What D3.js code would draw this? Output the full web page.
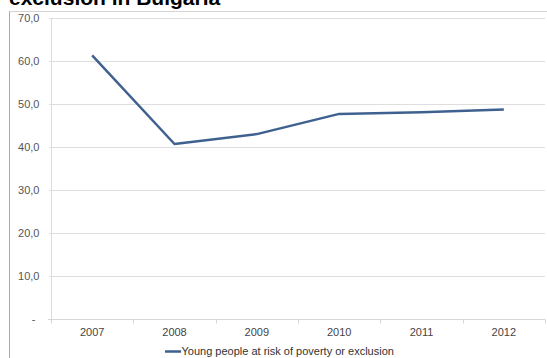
<!DOCTYPE html>
<html><head><meta charset="utf-8">
<script src="https://cdn.jsdelivr.net/npm/d3@7"></script>
<style>
html,body{margin:0;padding:0;background:#fff;overflow:hidden;}
svg{display:block;font-family:"Liberation Sans",Arial,sans-serif;}
</style></head>
<body>
<svg id="c" width="547" height="358"></svg>
<script>
const title = "exclusion in Bulgaria";
const years = ["2007","2008","2009","2010","2011","2012"];
const values = [61.3, 40.7, 43.0, 47.7, 48.1, 48.7];
const yTicks = [0,10,20,30,40,50,60,70];
const seriesName = "Young people at risk of poverty or exclusion";

const svg = d3.select("#c");
const m = {left:51, right:545, top:18, bottom:319};

// chart box border
svg.append("line").attr("x1",9.5).attr("x2",547).attr("y1",11.5).attr("y2",11.5)
  .attr("stroke","#d4d4d4").attr("stroke-width",1);
svg.append("line").attr("x1",9.5).attr("x2",9.5).attr("y1",11.5).attr("y2",358)
  .attr("stroke","#a8a8a8").attr("stroke-width",1);

// title (cut off at top)
svg.append("text").attr("x",9).attr("y",5)
  .attr("font-size",21).attr("font-weight","bold").attr("fill","#000").text(title);

const x = d3.scaleBand().domain(years).range([m.left, m.right]).padding(0);
const y = d3.scaleLinear().domain([0,70]).range([m.bottom, m.top]);

// gridlines
svg.append("g").selectAll("line").data(yTicks.filter(d=>d>0)).join("line")
  .attr("x1",m.left-2).attr("x2",m.right)
  .attr("y1",d=>Math.round(y(d))+0.5).attr("y2",d=>Math.round(y(d))+0.5)
  .attr("stroke","#dedede").attr("stroke-width",1);

// y axis
const yAxis = d3.axisLeft(y).tickValues(yTicks).tickSize(0).tickPadding(0)
  .tickFormat(d => d===0 ? "-" : d.toFixed(1).replace(".",","));
const gy = svg.append("g").attr("transform",`translate(${m.left+0.5},0)`).call(yAxis);
gy.select(".domain").attr("stroke","#dcdcdc").attr("d",`M0,${m.top}V${m.bottom}`);
gy.selectAll("text").attr("font-size",11).attr("fill","#555").attr("font-family","Liberation Sans, Arial, sans-serif")
  .attr("x",-12).attr("dy","0.34em");
gy.selectAll(".tick").filter(d=>d===0).select("text").attr("x",-16);

// x axis
const xAxis = d3.axisBottom(x).tickSize(0).tickPadding(0);
const gx = svg.append("g").attr("transform",`translate(0,${Math.round(m.bottom)+0.5})`).call(xAxis);
gx.select(".domain").attr("stroke","#d6d6d6").attr("d",`M${m.left-3},0H${m.right}`);
gx.selectAll("text").attr("font-size",11).attr("fill","#444").attr("font-family","Liberation Sans, Arial, sans-serif")
  .attr("y",16.5).attr("dy",0);
// category boundary ticks
const bounds = years.map(d=>x(d)).concat([m.right]);
gx.append("g").selectAll("line").data(bounds).join("line")
  .attr("x1",d=>Math.round(d)+0.5).attr("x2",d=>Math.round(d)+0.5)
  .attr("y1",0).attr("y2",4).attr("stroke","#d6d6d6");

// line
const line = d3.line().x((d,i)=>x(years[i])+x.bandwidth()/2).y(d=>y(d));
svg.append("path").datum(values).attr("d",line)
  .attr("fill","none").attr("stroke","#3f6190").attr("stroke-width",2.5)
  .attr("stroke-linejoin","round").attr("stroke-linecap","butt");

// legend
const lg = svg.append("g");
lg.append("line").attr("x1",165).attr("x2",181).attr("y1",351.5).attr("y2",351.5)
  .attr("stroke","#3f6190").attr("stroke-width",2.5);
lg.append("text").attr("x",181.5).attr("y",355).attr("font-size",11).attr("fill","#333").text(seriesName);
</script>
</body></html>
